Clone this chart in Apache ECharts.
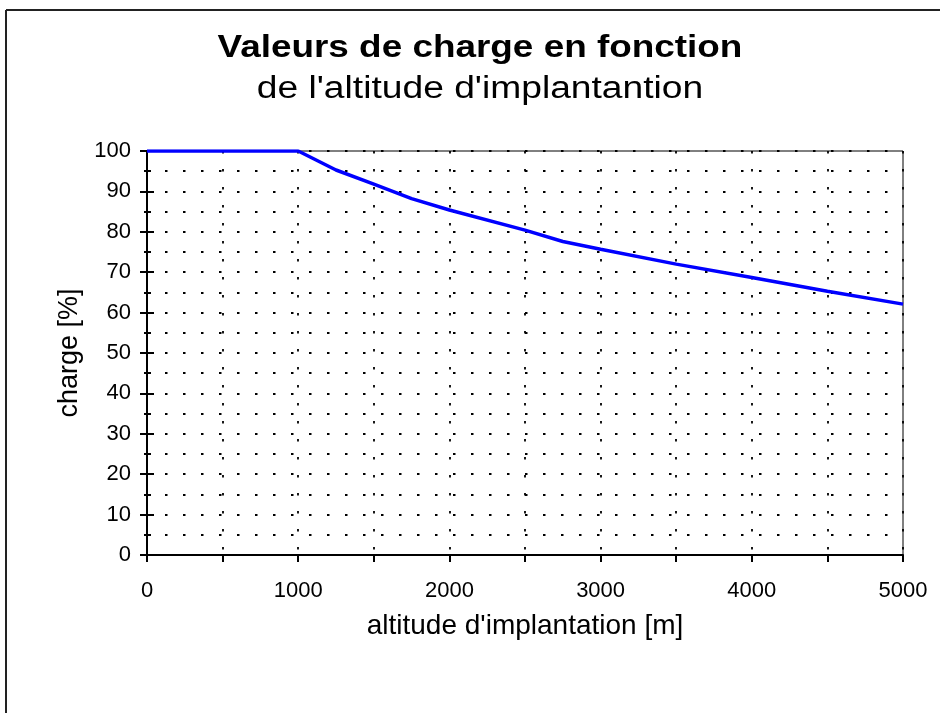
<!DOCTYPE html>
<html>
<head>
<meta charset="utf-8">
<script src="https://cdn.jsdelivr.net/npm/echarts@6/dist/echarts.min.js"></script>
<style>
  html, body { margin: 0; padding: 0; background: #fff; }
  #chart { width: 940px; height: 713px; }
</style>
</head>
<body>
<div id="chart"></div>
<script>
(function () {
    // altitude [m] -> charge [%]
    var altitudes = [0, 1000, 1250, 1500, 1750, 2000, 2500, 2750, 3000, 3500, 4000, 4500, 5000];
    var charges   = [100, 100, 95.3, 91.8, 88.2, 85.4, 80.4, 77.6, 75.7, 72.0, 68.7, 65.3, 62.1];

    var font = 'Liberation Sans, Arial, sans-serif';
    var dotted = { color: '#000', width: 1.8, type: [2.5, 15.5] };
    var tickStyle = { color: '#000', width: 2 };

    var points = altitudes.map(function (a, i) { return [a, charges[i]]; });

    var myChart = echarts.init(document.getElementById('chart'));

    var option = {
        backgroundColor: '#fff',
        animation: false,
        grid: {
            left: 147, right: 37, top: 151, bottom: 158,
            show: true, borderColor: '#000', borderWidth: 1
        },
        xAxis: {
            type: 'value',
            min: 0, max: 5000, interval: 1000,
            name: "altitude d'implantation [m]",
            nameLocation: 'middle', nameGap: 57,
            nameTextStyle: { fontFamily: font, fontSize: 28, color: '#000' },
            axisLine: { lineStyle: { color: '#000', width: 2 } },
            axisTick: { show: true, length: 7, lineStyle: tickStyle },
            minorTick: { show: true, splitNumber: 2, length: 7, lineStyle: tickStyle },
            axisLabel: {
                fontFamily: font, fontSize: 22, color: '#000', margin: 25,
                formatter: function (v) { return String(v); }
            },
            splitLine: { show: true, lineStyle: dotted },
            minorSplitLine: { show: true, lineStyle: dotted }
        },
        yAxis: [
            {
                type: 'value',
                min: 0, max: 100, interval: 10,
                name: 'charge [%]',
                nameLocation: 'middle', nameGap: 64,
                nameTextStyle: { fontFamily: font, fontSize: 27, color: '#000' },
                axisLine: { lineStyle: { color: '#000', width: 2 } },
                axisTick: { show: true, length: 7, lineStyle: tickStyle },
                minorTick: { show: true, splitNumber: 2, length: 3, lineStyle: tickStyle },
                axisLabel: { fontFamily: font, fontSize: 22, color: '#000', margin: 16 },
                splitLine: { show: true, lineStyle: dotted },
                minorSplitLine: { show: true, lineStyle: dotted }
            },
            {
                // inner half of the crossing ticks
                type: 'value', position: 'left',
                min: 0, max: 100, interval: 10,
                axisLine: { show: false },
                axisTick: { show: true, inside: true, length: 7, lineStyle: tickStyle },
                minorTick: { show: true, splitNumber: 2, length: 4, lineStyle: tickStyle },
                axisLabel: { show: false },
                splitLine: { show: false }
            }
        ],
        series: [
            {
                type: 'line',
                data: points,
                showSymbol: false,
                lineStyle: { color: '#0000ff', width: 3.5 },
                z: 5
            }
        ],
        graphic: [
            { type: 'line', shape: { x1: 6, y1: 10, x2: 940, y2: 10 }, style: { stroke: '#222', lineWidth: 2 } },
            { type: 'line', shape: { x1: 6, y1: 10, x2: 6, y2: 713 }, style: { stroke: '#222', lineWidth: 2 } },
            {
                type: 'text', x: 480, y: 48, scaleX: 1.19,
                style: {
                    text: 'Valeurs de charge en fonction',
                    font: 'bold 31px ' + font, fill: '#000',
                    textAlign: 'center', textVerticalAlign: 'middle'
                }
            },
            {
                type: 'text', x: 480, y: 89, scaleX: 1.2,
                style: {
                    text: "de l'altitude d'implantantion",
                    font: '31px ' + font, fill: '#000',
                    textAlign: 'center', textVerticalAlign: 'middle'
                }
            }
        ]
    };

    myChart.setOption(option);
})();
</script>
</body>
</html>
